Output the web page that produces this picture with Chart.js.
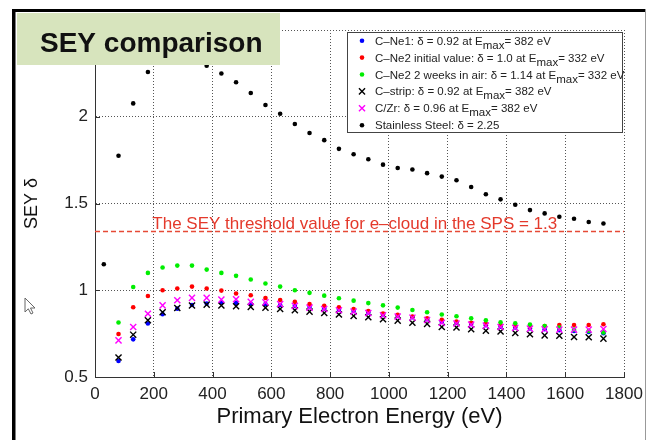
<!DOCTYPE html>
<html>
<head>
<meta charset="utf-8">
<title>SEY comparison</title>
<script src="https://cdn.jsdelivr.net/npm/chart.js@4.4.0/dist/chart.umd.min.js"></script>
<style>
  html, body { margin: 0; padding: 0; background: #fff; }
  #sey-chart { display: block; }
</style>
</head>
<body>
<canvas id="sey-chart" width="652" height="440"></canvas>
<script>
// SEY vs primary electron energy
// ------------------------------

var FONT = '"Liberation Sans", Arial, Helvetica, sans-serif';

// Primary energies (eV) for the coated samples
var energy = [80, 130, 180, 230, 280, 330, 380, 430, 480, 530, 580, 630, 680, 730, 780, 830, 880,
              930, 980, 1030, 1080, 1130, 1180, 1230, 1280, 1330, 1380, 1430, 1480, 1530, 1580,
              1630, 1680, 1730];
// Stainless steel has one extra point at low energy
var energySteel = [30, 80, 130, 180, 230, 280, 330, 380, 430, 480, 530, 580, 630, 680, 730, 780,
                   830, 880, 930, 980, 1030, 1080, 1130, 1180, 1230, 1280, 1330, 1380, 1430, 1480,
                   1530, 1580, 1630, 1680, 1730];

var seyCNe1 = [0.592, 0.717, 0.808, 0.862, 0.894, 0.915, 0.923, 0.929, 0.927, 0.922,
               0.920, 0.915, 0.910, 0.903, 0.895, 0.888, 0.880, 0.872, 0.860, 0.852,
               0.845, 0.833, 0.818, 0.812, 0.805, 0.798, 0.790, 0.785, 0.780, 0.775,
               0.770, 0.765, 0.760, 0.752];
var seyCNe2Initial = [0.748, 0.902, 0.967, 1.000, 1.010, 1.021, 1.010, 0.998, 0.981, 0.971,
                      0.955, 0.944, 0.933, 0.920, 0.911, 0.902, 0.891, 0.880, 0.865, 0.858,
                      0.848, 0.839, 0.829, 0.819, 0.812, 0.806, 0.800, 0.794, 0.790, 0.794,
                      0.800, 0.800, 0.800, 0.804];
var seyCNe2Air = [0.814, 1.019, 1.100, 1.131, 1.142, 1.142, 1.119, 1.100, 1.083, 1.062,
                  1.039, 1.021, 1.000, 0.985, 0.969, 0.954, 0.940, 0.926, 0.913, 0.900,
                  0.886, 0.873, 0.860, 0.850, 0.838, 0.827, 0.815, 0.810, 0.802, 0.794,
                  0.785, 0.773, 0.765, 0.757];
var seyCStrip = [0.612, 0.744, 0.827, 0.873, 0.898, 0.912, 0.917, 0.912, 0.908, 0.904,
                 0.899, 0.892, 0.885, 0.877, 0.869, 0.860, 0.852, 0.844, 0.833, 0.825,
                 0.813, 0.806, 0.788, 0.785, 0.775, 0.767, 0.762, 0.754, 0.746, 0.740,
                 0.738, 0.731, 0.729, 0.721];
var seyCZr = [0.711, 0.788, 0.865, 0.913, 0.942, 0.956, 0.956, 0.946, 0.948, 0.933,
              0.930, 0.920, 0.910, 0.900, 0.892, 0.885, 0.877, 0.869, 0.856, 0.848,
              0.842, 0.829, 0.813, 0.808, 0.802, 0.796, 0.788, 0.783, 0.779, 0.775,
              0.773, 0.773, 0.773, 0.777];
var seySteel = [1.150, 1.775, 2.077, 2.258, 2.330, 2.340, 2.320, 2.294, 2.249, 2.199, 2.137,
                2.068, 2.017, 1.958, 1.906, 1.865, 1.815, 1.784, 1.755, 1.724, 1.705,
                1.696, 1.675, 1.655, 1.634, 1.595, 1.553, 1.524, 1.493, 1.462, 1.443,
                1.424, 1.412, 1.393, 1.385];

// Legend entries, _{..} marks a subscript
var legendLabels = [
    'C\u2013Ne1: \u03b4 = 0.92 at E_{max}= 382 eV',
    'C\u2013Ne2 initial value: \u03b4 = 1.0 at E_{max}= 332 eV',
    'C\u2013Ne2 2 weeks in air: \u03b4 = 1.14 at E_{max}= 332 eV',
    'C\u2013strip: \u03b4 = 0.92 at E_{max}= 382 eV',
    'C/Zr: \u03b4 = 0.96 at E_{max}= 382 eV',
    'Stainless Steel: \u03b4 = 2.25'
];

var xTicks = [0, 200, 400, 600, 800, 1000, 1200, 1400, 1600, 1800];
var yTicks = [0.5, 1, 1.5, 2, 2.5];

// e-cloud threshold for the SPS
var THRESHOLD = 1.34;
var thresholdText = 'The SEY threshold value for e\u2013cloud in the SPS = ' + THRESHOLD.toFixed(1);

function toPoints(xs, ys) {
    return xs.map(function (x, i) { return { x: x, y: ys[i] }; });
}

function dotSet(label, xs, ys, color, order) {
    return {
        label: label, data: toPoints(xs, ys), order: order,
        pointStyle: 'circle', pointRadius: 2.3, pointBorderWidth: 0,
        pointBackgroundColor: color, pointBorderColor: color
    };
}

function crossSet(label, xs, ys, color, order) {
    return {
        label: label, data: toPoints(xs, ys), order: order,
        pointStyle: 'crossRot', pointRadius: 4.3, pointBorderWidth: 1.4,
        pointBackgroundColor: color, pointBorderColor: color
    };
}

// draws one legend marker
function drawMarker(ctx, ds, x, y) {
    ctx.save();
    ctx.fillStyle = ds.pointBackgroundColor;
    ctx.strokeStyle = ds.pointBorderColor;
    ctx.lineWidth = ds.pointBorderWidth;
    if (ds.pointStyle === 'crossRot') {
        var d = ds.pointRadius * Math.SQRT1_2;
        ctx.beginPath();
        ctx.moveTo(x - d, y - d); ctx.lineTo(x + d, y + d);
        ctx.moveTo(x - d, y + d); ctx.lineTo(x + d, y - d);
        ctx.stroke();
    } else {
        ctx.beginPath();
        ctx.arc(x, y, ds.pointRadius, 0, Math.PI * 2);
        ctx.fill();
    }
    ctx.restore();
}

// text with TeX-like subscripts
function drawTexText(ctx, text, x, y) {
    var parts = text.split(/_\{|\}/);
    parts.forEach(function (part, k) {
        var sub = k % 2 === 1;
        ctx.font = '11.5px ' + FONT;
        ctx.fillText(part, x, y + (sub ? 4 : 0));
        x += ctx.measureText(part).width;
    });
}

var seyDecor = {
    id: 'seyDecor',
    beforeDatasetsDraw: function (chart) {
        var ctx = chart.ctx, area = chart.chartArea;
        var y = Math.round(chart.scales.y.getPixelForValue(THRESHOLD)) + 0.5;
        ctx.save();
        ctx.strokeStyle = '#e64a36';
        ctx.lineWidth = 1.6;
        ctx.setLineDash([5, 3]);
        ctx.beginPath();
        ctx.moveTo(area.left, y);
        ctx.lineTo(area.right, y);
        ctx.stroke();
        ctx.setLineDash([]);
        ctx.fillStyle = '#e4392b';
        ctx.font = '17px ' + FONT;
        ctx.textBaseline = 'alphabetic';
        ctx.fillText(thresholdText, chart.scales.x.getPixelForValue(195), y - 3);
        ctx.restore();
    },
    afterDraw: function (chart) {
        var ctx = chart.ctx, area = chart.chartArea;
        var xs = chart.scales.x, ys = chart.scales.y;
        ctx.save();

        // inward tick marks
        ctx.strokeStyle = '#333';
        ctx.lineWidth = 1;
        ctx.beginPath();
        xTicks.forEach(function (v) {
            var px = Math.round(xs.getPixelForValue(v)) + 0.5;
            ctx.moveTo(px, area.bottom); ctx.lineTo(px, area.bottom - 5);
        });
        yTicks.forEach(function (v) {
            var py = Math.round(ys.getPixelForValue(v)) + 0.5;
            ctx.moveTo(area.left, py); ctx.lineTo(area.left + 5, py);
        });
        ctx.stroke();

        // slide frame
        ctx.fillStyle = '#000';
        ctx.fillRect(12, 9, 3.5, 431);
        ctx.fillRect(12, 9, 633, 3);
        ctx.fillStyle = '#999';
        ctx.fillRect(645, 9, 1, 431);

        // title box
        ctx.fillStyle = '#d7e4bd';
        ctx.fillRect(17, 13, 263, 52);
        ctx.fillStyle = '#111';
        ctx.font = 'bold 28px ' + FONT;
        ctx.textBaseline = 'alphabetic';
        ctx.fillText('SEY comparison', 40, 52);

        // legend
        ctx.fillStyle = '#fff';
        ctx.fillRect(347, 32, 276, 100);
        ctx.strokeStyle = '#444';
        ctx.strokeRect(347.5, 32.5, 275, 100);
        chart.data.datasets.forEach(function (ds, i) {
            var cy = 40.7 + i * 16.9;
            drawMarker(ctx, ds, 362, cy);
            ctx.fillStyle = '#222';
            drawTexText(ctx, ds.label, 375, cy + 4);
        });

        // mouse pointer
        ctx.translate(25, 298);
        ctx.beginPath();
        ctx.moveTo(0, 0); ctx.lineTo(0, 14); ctx.lineTo(3.3, 10.8); ctx.lineTo(6, 16);
        ctx.lineTo(8, 15); ctx.lineTo(5.5, 10); ctx.lineTo(10, 10); ctx.closePath();
        ctx.fillStyle = '#fff';
        ctx.fill();
        ctx.strokeStyle = '#666';
        ctx.lineWidth = 1;
        ctx.stroke();
        ctx.restore();
    }
};

var ctx = document.getElementById('sey-chart');

var chartData = {
    datasets: [
        dotSet(legendLabels[0], energy, seyCNe1, '#0000ff', 5),
        dotSet(legendLabels[1], energy, seyCNe2Initial, '#ff0000', 4),
        dotSet(legendLabels[2], energy, seyCNe2Air, '#00ee00', 3),
        crossSet(legendLabels[3], energy, seyCStrip, '#000000', 2),
        crossSet(legendLabels[4], energy, seyCZr, '#ff00ff', 1),
        dotSet(legendLabels[5], energySteel, seySteel, '#000000', 0)
    ]
};

var axisFont = { family: FONT, size: 17 };

var chartOptions = {
    responsive: false,
    animation: false,
    showLine: false,
    layout: { padding: { top: 30, right: 28, left: 0, bottom: 0 } },
    plugins: {
        legend: { display: false },
        tooltip: { enabled: false }
    },
    scales: {
        x: {
            type: 'linear', min: 0, max: 1800,
            afterFit: function (scale) { scale.height = 63; },
            afterBuildTicks: function (scale) {
                scale.ticks = xTicks.map(function (v) { return { value: v }; });
            },
            ticks: {
                padding: 7, color: '#222', font: axisFont, maxRotation: 0,
                callback: function (v) { return String(v); }
            },
            grid: { color: '#555', lineWidth: 1, drawTicks: false },
            border: { display: true, color: '#333', width: 1, dash: [1, 2] },
            title: {
                display: true, text: 'Primary Electron Energy (eV)', color: '#111',
                font: { family: FONT, size: 22 }, padding: { top: 0, bottom: 10 }
            }
        },
        y: {
            type: 'linear', min: 0.5, max: 2.5,
            afterFit: function (scale) { scale.width = 95; },
            afterBuildTicks: function (scale) {
                scale.ticks = yTicks.map(function (v) { return { value: v }; });
            },
            ticks: {
                padding: 7, color: '#222', font: axisFont,
                callback: function (v) { return String(v); }
            },
            grid: { color: '#555', lineWidth: 1, drawTicks: false },
            border: { display: true, color: '#333', width: 1, dash: [1, 2] },
            title: {
                display: true, text: 'SEY \u03b4', color: '#111',
                font: { family: FONT, size: 18 }, padding: { top: 21, bottom: 0 }
            }
        }
    }
};

var seyChart = new Chart(ctx, {
    type: 'scatter',
    data: chartData,
    options: chartOptions,
    plugins: [seyDecor]
});
</script>
</body>
</html>
